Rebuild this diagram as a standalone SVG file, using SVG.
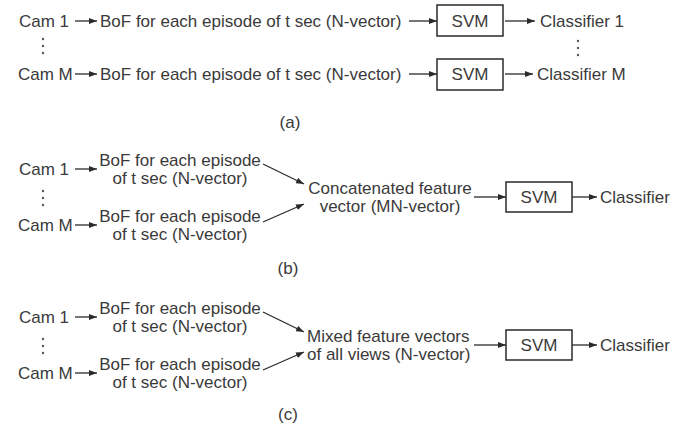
<svg xmlns="http://www.w3.org/2000/svg" width="673" height="431" viewBox="0 0 673 431">
<defs>
<marker id="ah" viewBox="0 0 8 6" refX="8" refY="3" markerWidth="8" markerHeight="6" orient="auto" markerUnits="userSpaceOnUse"><path d="M0,0 L8,3 L0,6 Z" fill="#2a2a2a"/></marker>
<style>
text{font-family:"Liberation Sans",Arial,sans-serif;font-size:17px;fill:#3a3a3a}
.m{text-anchor:middle}
.box{fill:none;stroke:#2a2a2a;stroke-width:1.5}
.c line{stroke:#2a2a2a;stroke-width:1.3;marker-end:url(#ah)}
.dot{fill:#555}
</style>
</defs>
<rect width="673" height="431" fill="#ffffff"/>

<!-- (a) -->
<g id="a-cam1"><text x="19" y="27">Cam 1</text></g>
<g id="a-bof1"><text x="100" y="27">BoF for each episode of t sec (N-vector)</text></g>
<g id="a-svm1"><rect class="box" x="437" y="5" width="66" height="31"/><text class="m" x="470" y="27">SVM</text></g>
<g id="a-cls1"><text x="540" y="27">Classifier 1</text></g>
<g id="a-camM"><text x="18" y="80">Cam M</text></g>
<g id="a-bofM"><text x="100" y="80">BoF for each episode of t sec (N-vector)</text></g>
<g id="a-svmM"><rect class="box" x="437" y="59" width="66" height="31"/><text class="m" x="470" y="80">SVM</text></g>
<g id="a-clsM"><text x="537" y="80">Classifier M</text></g>
<g id="a-dots"><circle class="dot" cx="43" cy="39" r="1.2"/><circle class="dot" cx="43" cy="46" r="1.2"/><circle class="dot" cx="43" cy="53" r="1.2"/><circle class="dot" cx="578" cy="41" r="1.2"/><circle class="dot" cx="578" cy="48" r="1.2"/><circle class="dot" cx="578" cy="55" r="1.2"/></g>
<g id="a-label"><text class="m" x="290" y="128">(a)</text></g>

<!-- (b) -->
<g id="b-cam1"><text x="19" y="175">Cam 1</text></g>
<g id="b-bof1"><text class="m" x="180" y="166">BoF for each episode</text><text class="m" x="180" y="184">of t sec (N-vector)</text></g>
<g id="b-camM"><text x="18" y="231">Cam M</text></g>
<g id="b-bofM"><text class="m" x="180" y="222">BoF for each episode</text><text class="m" x="180" y="240">of t sec (N-vector)</text></g>
<g id="b-dots"><circle class="dot" cx="43" cy="191" r="1.2"/><circle class="dot" cx="43" cy="198" r="1.2"/><circle class="dot" cx="43" cy="205" r="1.2"/></g>
<g id="b-concat"><text class="m" x="390" y="194">Concatenated feature</text><text class="m" x="390" y="212">vector (MN-vector)</text></g>
<g id="b-svm"><rect class="box" x="506" y="182" width="66" height="30"/><text class="m" x="539" y="203">SVM</text></g>
<g id="b-cls"><text x="600" y="203">Classifier</text></g>
<g id="b-label"><text class="m" x="288" y="274">(b)</text></g>

<!-- (c) -->
<g id="c-cam1"><text x="19" y="323">Cam 1</text></g>
<g id="c-bof1"><text class="m" x="180" y="314">BoF for each episode</text><text class="m" x="180" y="332">of t sec (N-vector)</text></g>
<g id="c-camM"><text x="18" y="379">Cam M</text></g>
<g id="c-bofM"><text class="m" x="180" y="370">BoF for each episode</text><text class="m" x="180" y="388">of t sec (N-vector)</text></g>
<g id="c-dots"><circle class="dot" cx="43" cy="339" r="1.2"/><circle class="dot" cx="43" cy="346" r="1.2"/><circle class="dot" cx="43" cy="353" r="1.2"/></g>
<g id="c-mixed"><text x="307" y="342">Mixed feature vectors</text><text x="307" y="360">of all views (N-vector)</text></g>
<g id="c-svm"><rect class="box" x="506" y="330" width="66" height="30"/><text class="m" x="539" y="351">SVM</text></g>
<g id="c-cls"><text x="600" y="351">Classifier</text></g>
<g id="c-label"><text class="m" x="288" y="420">(c)</text></g>

<g id="connectors" class="c">
<line x1="75" y1="21" x2="97" y2="21"/>
<line x1="409" y1="21" x2="437" y2="21"/>
<line x1="505" y1="21" x2="535" y2="21"/>
<line x1="75" y1="74" x2="97" y2="74"/>
<line x1="409" y1="74" x2="437" y2="74"/>
<line x1="505" y1="74" x2="533" y2="74"/>

<line x1="75" y1="169" x2="97" y2="169"/>
<line x1="75" y1="225" x2="97" y2="225"/>
<line x1="263" y1="164" x2="304" y2="184"/>
<line x1="263" y1="222" x2="304" y2="204"/>
<line x1="474" y1="197" x2="506" y2="197"/>
<line x1="572" y1="197" x2="597" y2="197"/>

<line x1="75" y1="317" x2="97" y2="317"/>
<line x1="75" y1="373" x2="97" y2="373"/>
<line x1="263" y1="312" x2="304" y2="332"/>
<line x1="263" y1="370" x2="304" y2="352"/>
<line x1="474" y1="345" x2="506" y2="345"/>
<line x1="572" y1="345" x2="597" y2="345"/>
</g>
</svg>
